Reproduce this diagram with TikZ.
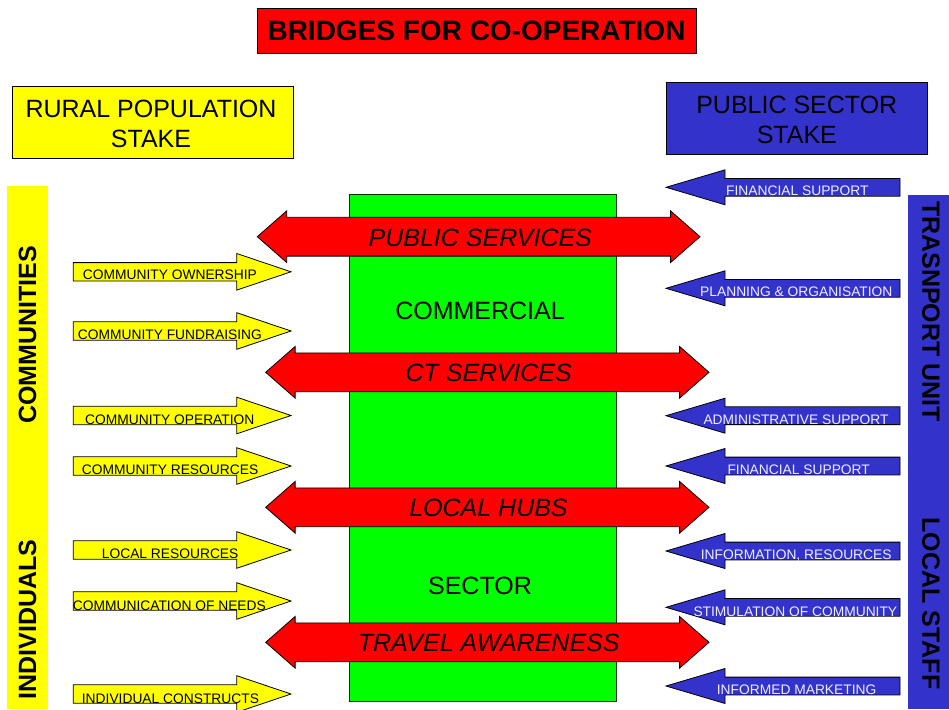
\documentclass[tikz,border=0pt]{standalone}
\usepackage{fontspec}
\setmainfont{Liberation Sans}
\definecolor{ptyellow}{HTML}{FFFF00}
\definecolor{ptblue}{HTML}{3333CC}
\definecolor{ptred}{HTML}{FF0000}
\definecolor{ptgreen}{HTML}{00FF00}
\definecolor{ptlabel}{HTML}{EEEEFF}
\begin{document}
\begin{tikzpicture}[x=1pt,y=-1pt,
  outline/.style={draw=black,line width=0.8pt,line join=miter},
  smalltext/.style={inner sep=0pt,anchor=base west,font=\fontsize{13.8}{16}\selectfont},
  bigitalic/.style={inner sep=0pt,anchor=base,font=\fontsize{25}{30}\selectfont\itshape},
  bigplain/.style={inner sep=0pt,font=\fontsize{25}{30}\selectfont,align=center},
  sidetext/.style={inner sep=0pt,font=\fontsize{25}{29}\selectfont\bfseries},
  yarrow/.pic={\filldraw[outline,fill=ptyellow] (0,-9.2) -- (163.4,-9.2) -- (163.4,-18.3) -- (217.7,0) -- (163.4,18.3) -- (163.4,9.2) -- (0,9.2) -- cycle;},
  barrow/.pic={\filldraw[outline,fill=ptblue] (0,0) -- (59,-17.5) -- (59,-8.9) -- (234,-8.9) -- (234,8.9) -- (59,8.9) -- (59,17.5) -- cycle;},
  rarrow/.pic={\filldraw[outline,fill=ptred] (0,0) -- (29.4,-25.8) -- (29.4,-19.4) -- (#1-29.4,-19.4) -- (#1-29.4,-25.8) -- (#1,0) -- (#1-29.4,25.8) -- (#1-29.4,19.4) -- (29.4,19.4) -- (29.4,25.8) -- cycle;}
]
\useasboundingbox (0,0) rectangle (949,709);

% title
\node[outline,fill=ptred,minimum width=439pt,minimum height=45pt,inner sep=0pt,
      font=\fontsize{28}{32}\selectfont\bfseries] (title) at (476.5,30.5) {BRIDGES FOR CO-OPERATION};

% stake boxes
\filldraw[outline,fill=ptyellow] (12,86) rectangle (293,158.7);
\node[bigplain] (rural) at (151,124) {RURAL POPULATION\\STAKE};
\filldraw[outline,fill=ptblue] (666,82.7) rectangle (927.7,154);
\node[bigplain] (public) at (796.8,119.5) {PUBLIC SECTOR\\STAKE};

% side bars
\fill[ptyellow] (7,186) rectangle (48,709);
\node[sidetext,rotate=90] (communities) at (27.5,335) {COMMUNITIES};
\node[sidetext,rotate=90] (individuals) at (27.5,619.7) {INDIVIDUALS};
\fill[ptblue] (908,195) rectangle (949,709);
\node[sidetext,rotate=-90] (transport) at (931,311.5) {TRASNPORT UNIT};
\node[sidetext,rotate=-90] (localstaff) at (931,603.5) {LOCAL STAFF};

% central sector column
\filldraw[fill=ptgreen,draw=black!80!green,line width=0.8pt] (349,194.3) rectangle (616,701.7);
\node[bigplain] (commercial) at (480,310.5) {COMMERCIAL};
\node[bigplain] (sector) at (480,586) {SECTOR};

% bridges
\pic at (257.3,236.7) {rarrow=442.7};
\node[bigitalic] (pubserv) at (480.3,246.7) {PUBLIC SERVICES};
\pic at (265.7,372.3) {rarrow=443.3};
\node[bigitalic] (ctserv) at (488.7,381.7) {CT SERVICES};
\pic at (265.7,507.3) {rarrow=443.3};
\node[bigitalic] (hubs) at (488.5,516.7) {LOCAL HUBS};
\pic at (265.7,642.3) {rarrow=443.3};
\node[bigitalic] (travel) at (488.7,651.7) {TRAVEL AWARENESS};

% community and individual inputs
\pic at (73.3,271.8) {yarrow};
\node[smalltext] (y1) at (82.7,279.3) {COMMUNITY OWNERSHIP};
\pic at (73.3,331) {yarrow};
\node[smalltext] (y2) at (77.7,339.3) {COMMUNITY FUNDRAISING};
\pic at (73.3,415.5) {yarrow};
\node[smalltext] (y3) at (85,424.3) {COMMUNITY OPERATION};
\pic at (73.3,466) {yarrow};
\node[smalltext] (y4) at (81.7,474) {COMMUNITY RESOURCES};
\pic at (73.3,550) {yarrow};
\node[smalltext] (y5) at (101.7,558.3) {LOCAL RESOURCES};
\pic at (73.3,601) {yarrow};
\node[smalltext] (y6) at (72.7,610) {COMMUNICATION OF NEEDS};
\pic at (73.3,694) {yarrow};
\node[smalltext] (y7) at (81.7,703.3) {INDIVIDUAL CONSTRUCTS};

% public sector inputs
\pic at (666,187.3) {barrow};
\node[smalltext,text=ptlabel] (b1) at (726,195) {FINANCIAL SUPPORT};
\pic at (666,288.3) {barrow};
\node[smalltext,text=ptlabel] (b2) at (700,296.7) {PLANNING \& ORGANISATION};
\pic at (666,415.7) {barrow};
\node[smalltext,text=ptlabel] (b3) at (703.3,424) {ADMINISTRATIVE SUPPORT};
\pic at (666,466) {barrow};
\node[smalltext,text=ptlabel] (b4) at (727.3,474) {FINANCIAL SUPPORT};
\pic at (666,551) {barrow};
\node[smalltext,text=ptlabel] (b5) at (700.7,559) {INFORMATION, RESOURCES};
\pic at (666,607.3) {barrow};
\node[smalltext,text=ptlabel] (b6) at (693.3,616) {STIMULATION OF COMMUNITY};
\pic at (666,686) {barrow};
\node[smalltext,text=ptlabel] (b7) at (716.7,694) {INFORMED MARKETING};
\end{tikzpicture}
\end{document}
